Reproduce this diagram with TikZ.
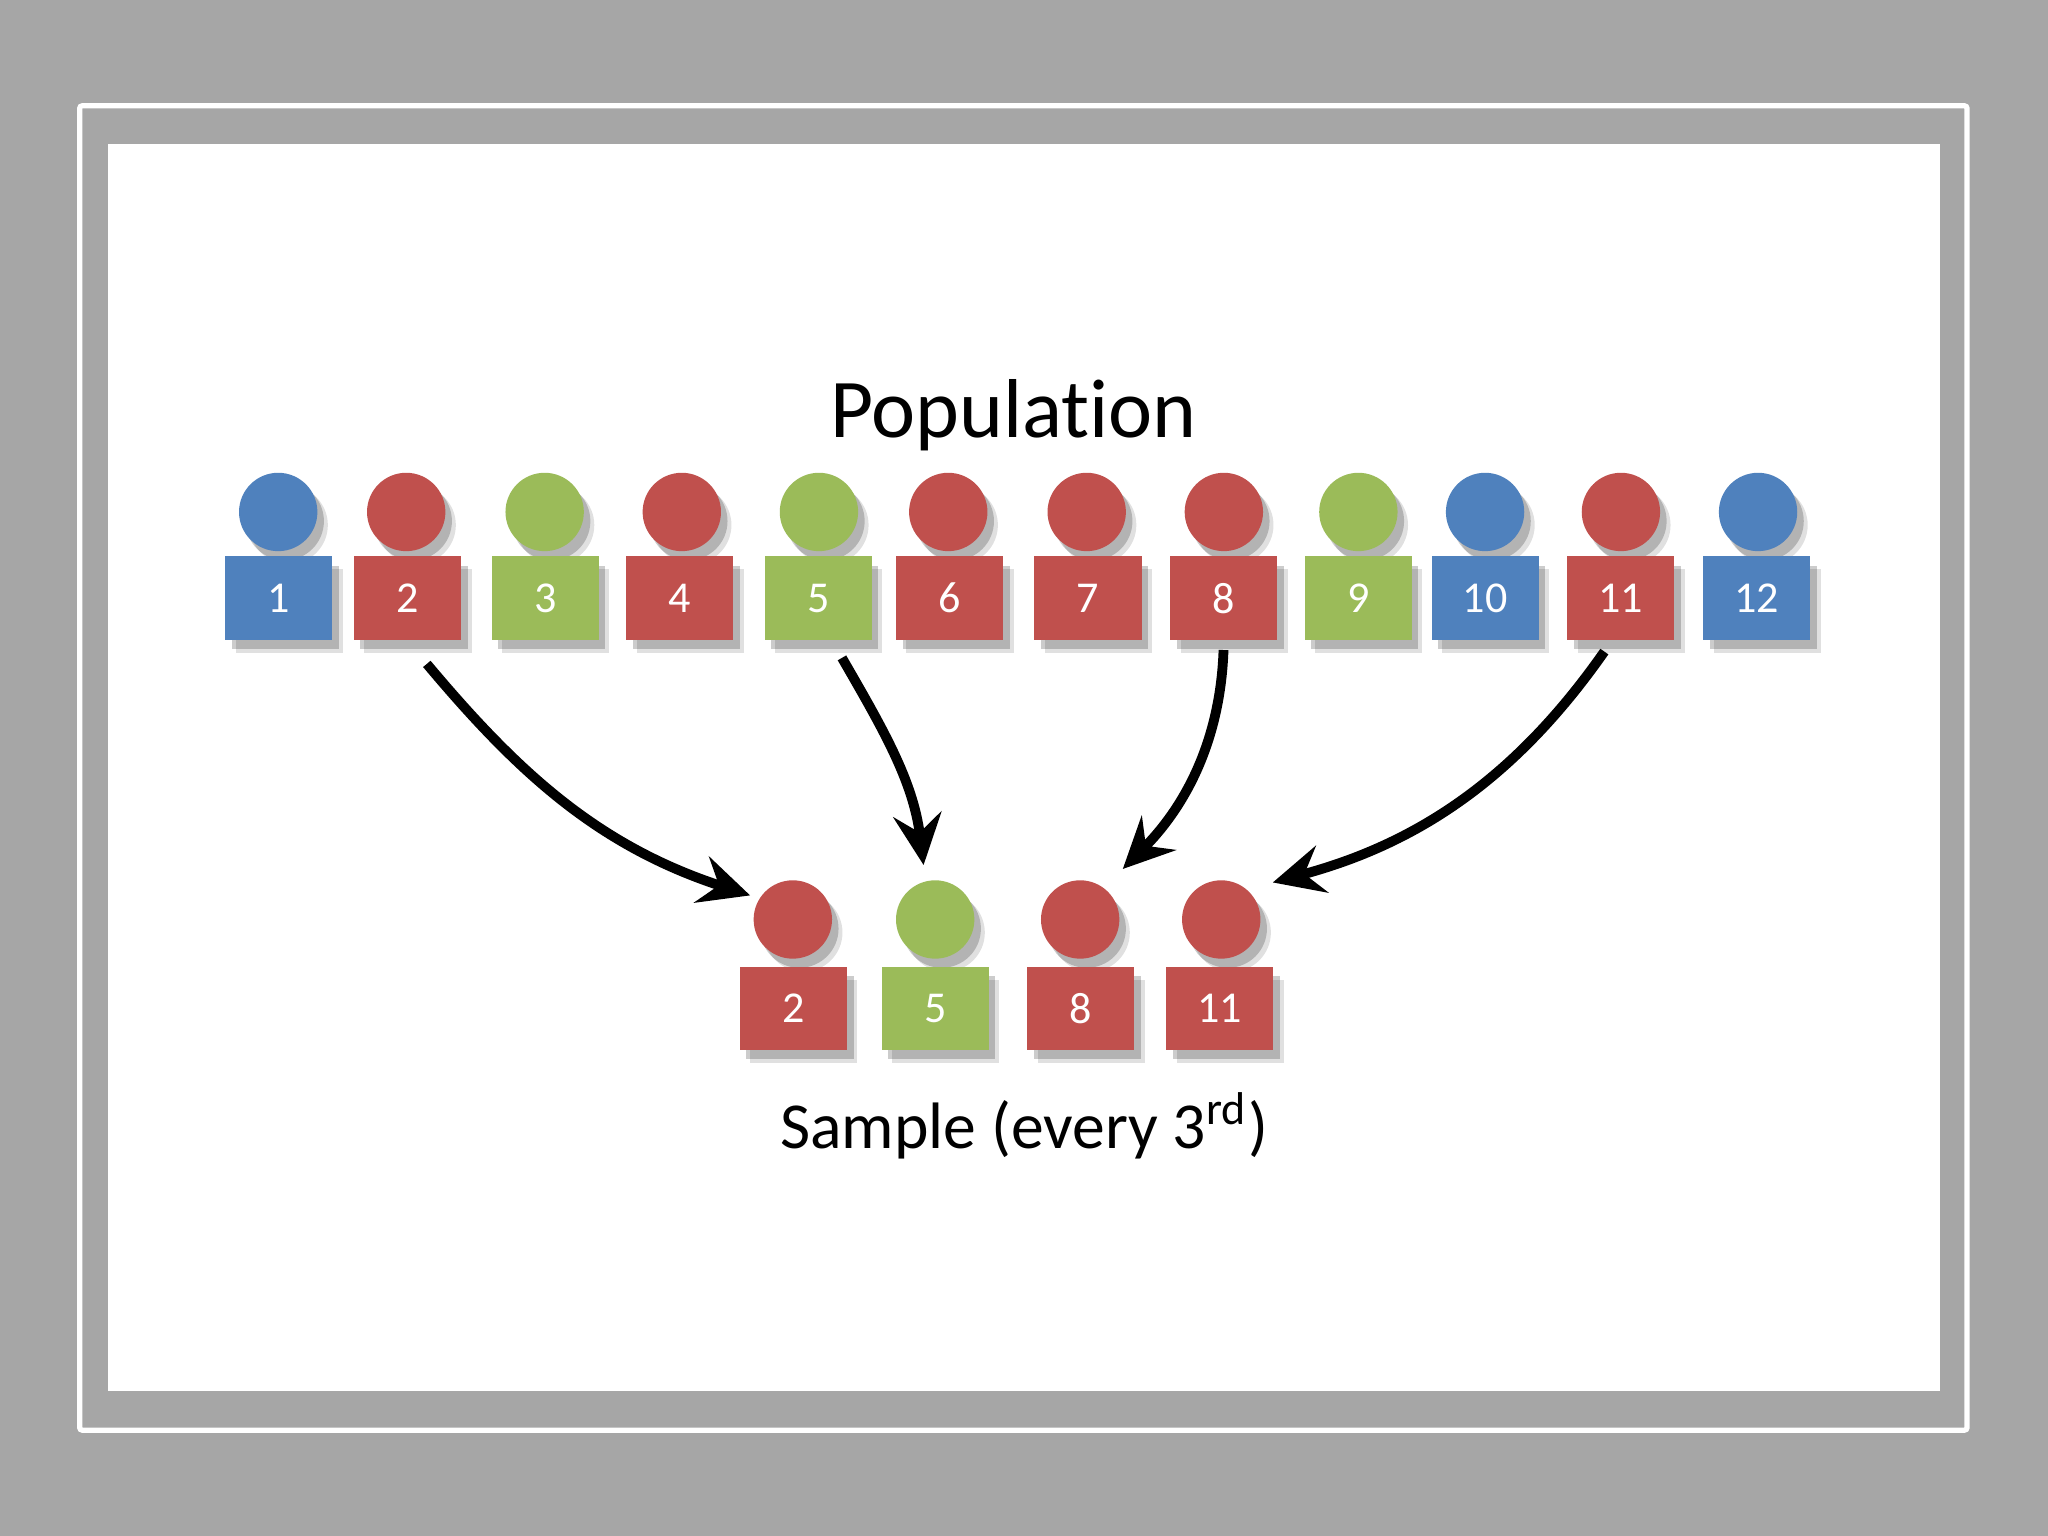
\documentclass[tikz,border=0pt]{standalone}
\usepackage{fontspec}
\setmainfont[Ligatures=CommonOff]{Carlito}
\usepackage{tikz}
\usetikzlibrary{arrows.meta,shadows}
\definecolor{framegray}{HTML}{A6A6A6}
\definecolor{bluefig}{HTML}{4F81BD}
\definecolor{redfig}{HTML}{C0504D}
\definecolor{greenfig}{HTML}{9BBB59}

\begin{document}
\begin{tikzpicture}[
    font=\fontsize{9.6}{12}\selectfont,
    figshadow/.style={
      drop shadow={shadow xshift=.08cm, shadow yshift=-.1cm, fill=black, opacity=.12},
      drop shadow={shadow xshift=.05cm, shadow yshift=-.07cm, fill=black, opacity=.2}},
    head/.style={circle, fill=#1, minimum size=.6cm, inner sep=0pt, figshadow},
    body/.style={rectangle, fill=#1, minimum width=.82cm, minimum height=.64cm, inner sep=0pt, text=white, figshadow},
    pick/.style={-{Stealth[length=3.9mm,width=3.7mm,inset=1.4mm]}, line width=.075cm, black}
  ]
  \useasboundingbox (0,0) rectangle (15.68,11.76);
  \fill[framegray] (0,0) rectangle (15.68,11.76);
  \draw[white, line width=.04cm, rounded corners=.02cm] (.61,.81) rectangle (15.06,10.95);
  \fill[white] (.83,1.11) rectangle (14.85,10.66);

  \node[font=\fontsize{18.2}{22}\selectfont] (poptitle) at (7.76,8.58) {Population};
  \node[font=\fontsize{14.3}{17}\selectfont] (samptitle) at (7.84,3.14) {Sample (every 3\textsuperscript{rd})};

  % population
  \foreach \n/\hx/\bx/\ycol in {1/2.13/2.135/bluefig, 2/3.11/3.12/redfig, 3/4.17/4.175/greenfig,
      4/5.22/5.205/redfig, 5/6.27/6.265/greenfig, 6/7.26/7.27/redfig, 7/8.32/8.33/redfig,
      8/9.37/9.37/redfig, 9/10.40/10.40/greenfig, 10/11.37/11.37/bluefig,
      11/12.41/12.41/redfig, 12/13.46/13.45/bluefig} {
    \node[head=\ycol] (ph\n) at (\hx,7.84) {};
    \node[body=\ycol] (p\n) at (\bx,7.18) {\n};
  }

  % sample
  \foreach \n/\hx/\bx/\ycol in {2/6.07/6.075/redfig, 5/7.16/7.16/greenfig, 8/8.27/8.275/redfig, 11/9.35/9.34/redfig} {
    \node[head=\ycol] (sh\n) at (\hx,4.72) {};
    \node[body=\ycol] (s\n) at (\bx,4.04) {\n};
  }

  \draw[pick, shorten <=.23cm, shorten >=.07cm] (p2.-90) to[out=-50,in=162] (sh2.148);
  \draw[pick, shorten <=.15cm, shorten >=.12cm] (p5.-72) to[out=-60,in=97] (sh5.104);
  \draw[pick, shorten <=.07cm, shorten >=.2cm] (p8.-90) to[out=-92,in=45] (sh8.53);
  \draw[pick, shorten <=.1cm, shorten >=.2cm] (p11.-102) to[out=-125,in=15] (sh11.49);
\end{tikzpicture}
\end{document}
